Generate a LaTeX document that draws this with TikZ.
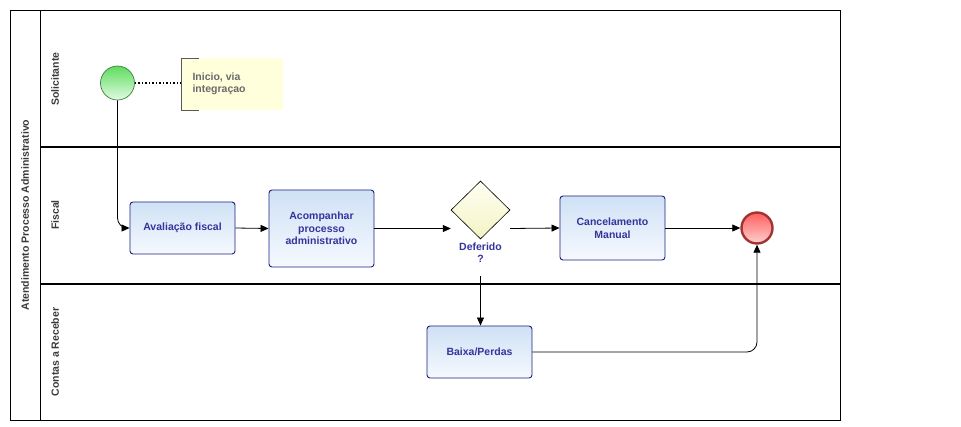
\documentclass[tikz,border=0pt]{standalone}
\usepackage{fontspec}
\setmainfont{Liberation Sans}
\usetikzlibrary{arrows.meta,shapes.geometric}
\definecolor{taskborder}{HTML}{1C2180}
\definecolor{tasktext}{HTML}{34349C}
\definecolor{tasktop}{HTML}{CFE1F5}
\definecolor{taskbot}{HTML}{F6F9FE}
\definecolor{lanetext}{HTML}{3A3A3A}
\definecolor{notefill}{HTML}{FFFFDC}
\definecolor{notetext}{HTML}{6A6A6A}
\definecolor{startline}{HTML}{3F7F3F}
\definecolor{starttop}{HTML}{5EDC5E}
\definecolor{startbot}{HTML}{E2FBE2}
\definecolor{endline}{HTML}{A33333}
\definecolor{endtop}{HTML}{FF5E5E}
\definecolor{endbot}{HTML}{FFD0D0}
\definecolor{gwtop}{HTML}{FFFFF4}
\definecolor{gwbot}{HTML}{F3F3C4}
\tikzset{
  task/.style={draw=taskborder, line width=0.9pt, rounded corners=3pt,
    top color=tasktop, bottom color=taskbot, minimum width=105pt,
    text=tasktext, font=\fontsize{10.5}{12.5}\selectfont\bfseries,
    align=center, inner sep=2pt},
  lanelabel/.style={rotate=90, text=lanetext,
    font=\fontsize{10.5}{12}\selectfont\bfseries},
  flow/.style={draw=black, line width=0.8pt,
    -{Triangle[length=8pt,width=7pt]}},
  divider/.style={line width=1.8pt},
}
\begin{document}
\begin{tikzpicture}[x=1pt,y=-1pt]
\useasboundingbox (0,0) rectangle (961,426);
\fill[white] (0,0) rectangle (961,426);

% pool and lanes
\draw[line width=0.8pt] (10,10) rectangle (840,420);
\draw[line width=0.8pt] (40,10) -- (40,420);
\draw[divider] (40,147) -- (840,147);
\draw[divider] (40,284) -- (840,284);
\node[lanelabel] (pool) at (25,215) {Atendimento Processo Administrativo};
\node[lanelabel] (lsol) at (55,79) {Solicitante};
\node[lanelabel] (lfis) at (55,215) {Fiscal};
\node[lanelabel] (lcr) at (55,352) {Contas a Receber};

% start event and its annotation
\node[circle, draw=startline, line width=0.7pt, top color=starttop,
  bottom color=startbot, minimum size=34pt, inner sep=0pt] (start) at (117.5,83) {};
\fill[notefill] (181,58) rectangle (283,110);
\draw[draw=black!65, line width=0.8pt] (199,58) -- (181,58) -- (181,110) -- (199,110);
\coordinate (notein) at (181,83);
\node[anchor=west, align=left, text=notetext,
  font=\fontsize{10.5}{12.5}\selectfont\bfseries] (note) at (189,84)
  {Inicio, via\\integraçao};
\draw[line width=1.5pt, dotted] (start.east) -- (notein);

% tasks
\node[task, minimum height=52pt] (aval) at (182.5,228) {Avaliação fiscal};
\node[task, minimum height=77pt] (acomp) at (321.5,228.5) {Acompanhar\\processo\\administrativo};
\node[task, minimum height=64pt] (canc) at (612.5,228) {Cancelamento\\Manual};
\node[task, minimum height=52pt] (baixa) at (479.5,352) {Baixa/Perdas};

% gateway with its label
\node[minimum width=59pt, minimum height=95pt, inner sep=0pt] (gw) at (480.5,228.5) {};
\node[diamond, draw=black, line width=0.6pt, top color=gwtop, bottom color=gwbot,
  minimum width=59pt, minimum height=58pt, inner sep=0pt] (gwd) at (480.5,210) {};
\node[text=tasktext, align=center, font=\fontsize{10.5}{12.5}\selectfont\bfseries]
  (gwl) at (480.5,252.5) {Deferido\\?};

% end event
\node[circle, draw=endline, line width=2.4pt, top color=endtop,
  bottom color=endbot, minimum size=31pt, inner sep=0pt] (end) at (757,228) {};

% sequence flows
\draw[flow, rounded corners=10pt] (start.south) |- (aval.west);
\draw[flow] (aval.east) -- (acomp.west);
\draw[flow] (acomp.east) -- (gw.west);
\draw[flow] (gw.east) -- (canc.west);
\draw[flow] (canc.east) -- (end.west);
\draw[flow] (gw.south) -- (gw.south |- baixa.north);
\draw[flow, rounded corners=10pt] (baixa.east) -| (end.south);
\end{tikzpicture}
\end{document}
